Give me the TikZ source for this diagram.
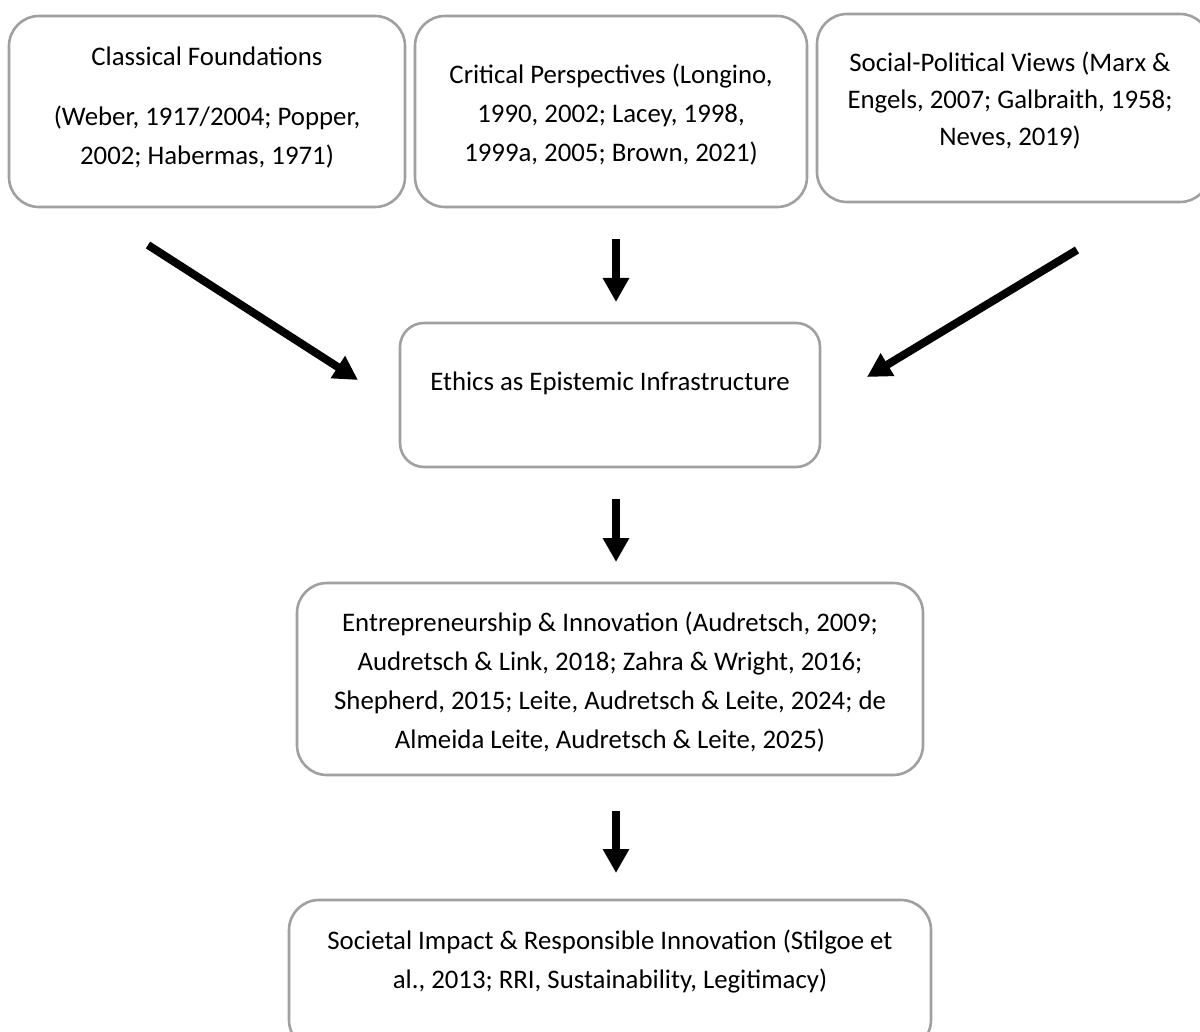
\documentclass[tikz,border=0pt]{standalone}
\usepackage{fontspec}
\setmainfont{Carlito}
\usetikzlibrary{arrows.meta,calc}
\definecolor{boxgray}{RGB}{160,160,160}
\begin{document}
\begin{tikzpicture}[x=1pt,y=-1pt,
  box/.style={draw=boxgray, line width=2.6pt, rounded corners=30pt, inner sep=0pt, fill=none},
  txt/.style={font=\fontsize{26.8}{38.8}\selectfont, align=center, inner sep=0pt, anchor=north},
  arr/.style={line width=8pt, -{Triangle[width=25pt,length=24pt]}}]
\useasboundingbox[fill=white] (0,0) rectangle (1200,1032);
% boxes
\node[box, minimum width=396pt, minimum height=191pt] (b1) at (207,111.5) {};
\node[box, minimum width=392pt, minimum height=191pt] (b2) at (611,111.5) {};
\node[box, minimum width=393pt, minimum height=188pt] (b3) at (1013.5,108) {};
\node[box, rounded corners=24pt, minimum width=420pt, minimum height=144pt] (eth) at (610,395) {};
\node[box, minimum width=626pt, minimum height=192pt] (ent) at (610,679) {};
\node[box, minimum width=642pt, minimum height=150pt] (soc) at (610,975) {};
% texts
\node[txt] (t1) at (207,47) {Classical Foundations\\[21pt](Weber, 1917/2004; Popper,\\2002; Habermas, 1971)};
\node[txt] (t2) at (611,64) {Critical Perspectives (Longino,\\1990, 2002; Lacey, 1998,\\1999a, 2005; Brown, 2021)};
\node[txt, font=\fontsize{26.8}{37}\selectfont] (t3) at (1010,52) {Social-Political Views (Marx \&\\Engels, 2007; Galbraith, 1958;\\Neves, 2019)};
\node[txt] (t4) at (610,372) {Ethics as Epistemic Infrastructure};
\node[txt] (t5) at (610,612) {Entrepreneurship \& Innovation (Audretsch, 2009;\\Audretsch \& Link, 2018; Zahra \& Wright, 2016;\\Shepherd, 2015; Leite, Audretsch \& Leite, 2024; de\\Almeida Leite, Audretsch \& Leite, 2025)};
\node[txt] (t6) at (610,930) {Societal Impact \& Responsible Innovation (Stilgoe et\\al., 2013; RRI, Sustainability, Legitimacy)};
% arrow end points
\coordinate (a1s) at (148,245);
\coordinate (a1e) at (358,380);
\coordinate (a2s) at (616,239);
\coordinate (a2e) at (616,302);
\coordinate (a3s) at (1077,250);
\coordinate (a3e) at (867,377);
\coordinate (a4s) at (616,499);
\coordinate (a4e) at (616,562);
\coordinate (a5s) at (616,811);
\coordinate (a5e) at (616,873);
\draw[arr] (a1s) -- (a1e);
\draw[arr] (a2s) -- (a2e);
\draw[arr] (a3s) -- (a3e);
\draw[arr] (a4s) -- (a4e);
\draw[arr] (a5s) -- (a5e);
\end{tikzpicture}
\end{document}
